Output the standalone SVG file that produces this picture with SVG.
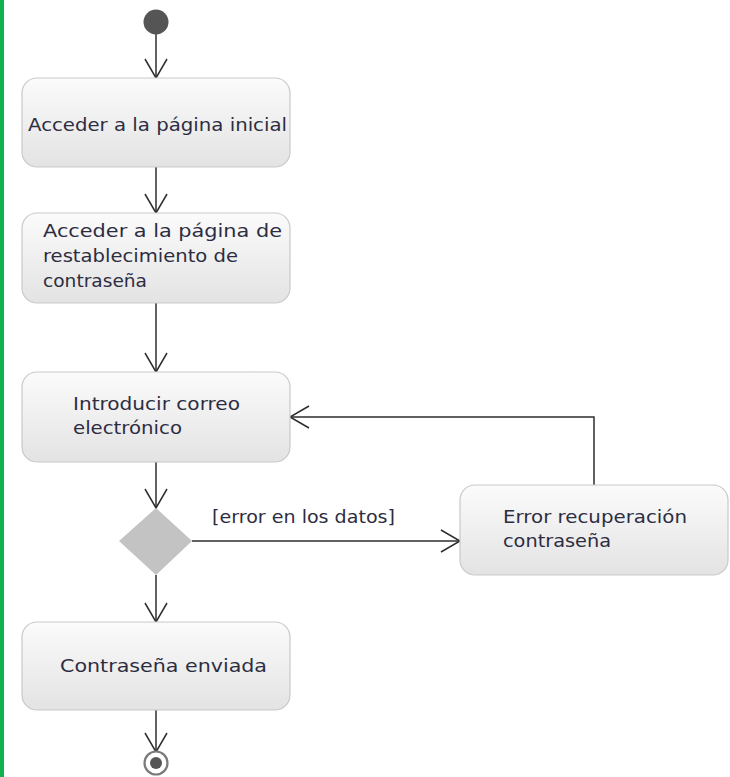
<svg xmlns="http://www.w3.org/2000/svg" width="730" height="777" viewBox="0 0 730 777">
  <style>
    .act rect { fill: url(#actFill); stroke: #c9c9c9; stroke-width: 1.2; }
    .lbl { font-family: "DejaVu Sans", "Liberation Sans", sans-serif; font-size: 17.5px; fill: #2d2d42; }
    .edge { fill: none; stroke: #2e2e2e; stroke-width: 1.5; }
  </style>
  <defs>
    <linearGradient id="actFill" x1="0" y1="0" x2="0" y2="1">
      <stop offset="0" stop-color="#fbfbfb"/>
      <stop offset="1" stop-color="#e3e3e3"/>
    </linearGradient>
    <marker id="open" markerUnits="userSpaceOnUse" markerWidth="24" markerHeight="26" refX="21" refY="12" orient="auto" overflow="visible">
      <path d="M2 1 L21 12 L2 23" fill="none" stroke="#2e2e2e" stroke-width="1.5"/>
    </marker>
  </defs>

  <rect x="0" y="0" width="730" height="777" fill="#ffffff"/>
  <rect x="0" y="0" width="4" height="777" fill="#12b04f"/>

  <g id="connectors">
    <line class="edge" x1="156" y1="34" x2="156" y2="78" marker-end="url(#open)"/>
    <line class="edge" x1="156" y1="167" x2="156" y2="213" marker-end="url(#open)"/>
    <line class="edge" x1="156" y1="303" x2="156" y2="372" marker-end="url(#open)"/>
    <line class="edge" x1="156" y1="462" x2="156" y2="508" marker-end="url(#open)"/>
    <line class="edge" x1="192" y1="541" x2="460" y2="541" marker-end="url(#open)"/>
    <polyline class="edge" points="594,485 594,417 290,417" marker-end="url(#open)"/>
    <line class="edge" x1="156" y1="575" x2="156" y2="622" marker-end="url(#open)"/>
    <line class="edge" x1="156" y1="710" x2="156" y2="752" marker-end="url(#open)"/>
    <text class="lbl" x="212" y="523" textLength="183" lengthAdjust="spacingAndGlyphs">[error en los datos]</text>
  </g>

  <g id="start">
    <circle cx="156" cy="22" r="12.5" fill="#555555"/>
  </g>

  <g id="acceder-inicial" class="act">
    <rect x="22" y="78" width="268" height="89" rx="15" ry="15"/>
    <text class="lbl" x="28" y="131" textLength="259" lengthAdjust="spacingAndGlyphs">Acceder a la página inicial</text>
  </g>

  <g id="acceder-restablecimiento" class="act">
    <rect x="22" y="213" width="268" height="90" rx="15" ry="15"/>
    <text class="lbl" x="43" y="237" textLength="239" lengthAdjust="spacingAndGlyphs">Acceder a la página de</text>
    <text class="lbl" x="43" y="262" textLength="195" lengthAdjust="spacingAndGlyphs">restablecimiento de</text>
    <text class="lbl" x="43" y="287" textLength="104" lengthAdjust="spacingAndGlyphs">contraseña</text>
  </g>

  <g id="introducir-correo" class="act">
    <rect x="22" y="372" width="268" height="90" rx="15" ry="15"/>
    <text class="lbl" x="73" y="410" textLength="167" lengthAdjust="spacingAndGlyphs">Introducir correo</text>
    <text class="lbl" x="73" y="434" textLength="109" lengthAdjust="spacingAndGlyphs">electrónico</text>
  </g>

  <g id="decision">
    <polygon points="156,508 192,541 156,575 119,541" fill="#c3c3c3"/>
  </g>

  <g id="error-recuperacion" class="act">
    <rect x="460" y="485" width="268" height="90" rx="15" ry="15"/>
    <text class="lbl" x="503" y="523" textLength="184" lengthAdjust="spacingAndGlyphs">Error recuperación</text>
    <text class="lbl" x="503" y="547" textLength="108" lengthAdjust="spacingAndGlyphs">contraseña</text>
  </g>

  <g id="contrasena-enviada" class="act">
    <rect x="22" y="622" width="268" height="88" rx="15" ry="15"/>
    <text class="lbl" x="60" y="672" textLength="207" lengthAdjust="spacingAndGlyphs">Contraseña enviada</text>
  </g>

  <g id="end">
    <circle cx="156" cy="763" r="11.5" fill="#ffffff" stroke="#7a7a7a" stroke-width="2.2"/>
    <circle cx="156" cy="763" r="6" fill="#555555"/>
  </g>
</svg>
